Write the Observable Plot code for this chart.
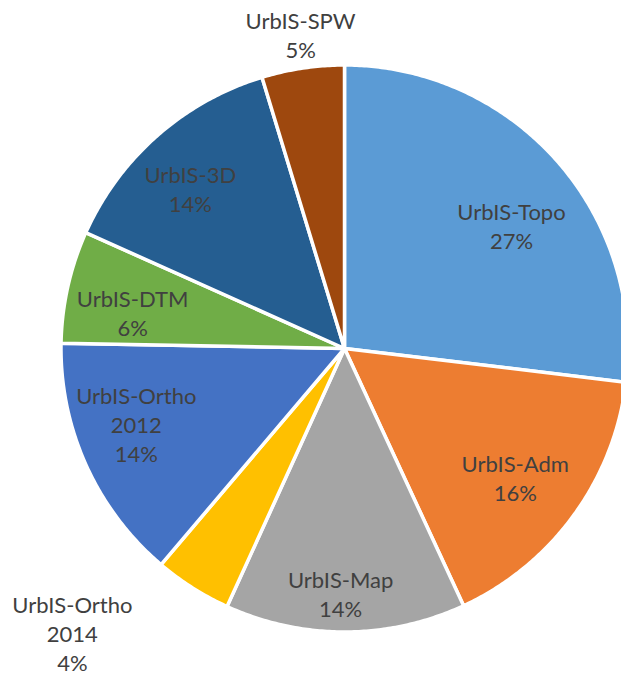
<!DOCTYPE html>
<html>
<head>
<meta charset="utf-8">
<script src="https://cdn.jsdelivr.net/npm/d3@7"></script>
<script src="https://cdn.jsdelivr.net/npm/@observablehq/plot@0.6"></script>
<style>
  html, body { margin: 0; padding: 0; background: #fff; overflow: hidden; }
</style>
</head>
<body>
<div id="chart"></div>
<script>
// ---- data ----
const names = ["UrbIS-Topo", "UrbIS-Adm", "UrbIS-Map", "UrbIS-Ortho 2014", "UrbIS-Ortho 2012", "UrbIS-DTM", "UrbIS-3D", "UrbIS-SPW"];
const labelNames = ["UrbIS-Topo", "UrbIS-Adm", "UrbIS-Map", "UrbIS-Ortho\n2014", "UrbIS-Ortho\n2012", "UrbIS-DTM", "UrbIS-3D", "UrbIS-SPW"];
const shares = [26.9, 16.2, 13.7, 4.4, 14.1, 6.4, 13.6, 4.7];
const colors = ["#5B9BD5", "#ED7D31", "#A5A5A5", "#FFC000", "#4472C4", "#70AD47", "#255E91", "#9E480E"];

// ---- label placement (polar: degrees clockwise from 12 o'clock, fraction of radius) ----
const labelAngle = [54, 127.4, 180.9, 223.6, 249.7, 279.1, 315.8, 352];
const labelRadius = [0.728, 0.758, 0.869, 1.392, 0.783, 0.757, 0.780, 1.113];

// ---- build slice polygons in unit-circle coordinates ----
const total = d3.sum(shares);
let acc = 0;
const slices = names.map((name, i) => {
  const a0 = acc / total * 2 * Math.PI;
  acc += shares[i];
  const a1 = acc / total * 2 * Math.PI;
  return {name, a0, a1};
});
const pts = slices.flatMap(s => {
  const n = Math.max(2, Math.ceil((s.a1 - s.a0) / (Math.PI / 360)));
  const arr = [{name: s.name, x: 0, y: 0}];
  for (let k = 0; k <= n; k++) {
    const a = s.a0 + (s.a1 - s.a0) * k / n;
    arr.push({name: s.name, x: Math.sin(a), y: Math.cos(a)});
  }
  arr.push({name: s.name, x: 0, y: 0});
  return arr;
});
const labels = names.map((name, i) => {
  const a = labelAngle[i] * Math.PI / 180;
  const pct = Math.round(shares[i] / total * 100) + "%";
  return {
    x: labelRadius[i] * Math.sin(a),
    y: labelRadius[i] * Math.cos(a),
    text: labelNames[i] + "\n" + pct
  };
});

// ---- scales: equal px per unit; centre at (344,348), R ~283.5px ----
const W = 621, H = 676, cx = 344, cy = 348, R = 283.5;
const chart = Plot.plot({
  width: W,
  height: H,
  margin: 0,
  x: {domain: [-cx / R, (W - cx) / R], axis: null},
  y: {domain: [(cy - H) / R, cy / R], axis: null},
  color: {domain: names, range: colors},
  style: {fontFamily: "Lato, 'Open Sans', sans-serif", background: "#fff"},
  marks: [
    Plot.line(pts, {x: "x", y: "y", z: "name", fill: "name", stroke: "white", strokeWidth: 3.5, curve: "linear", clip: true}),
    Plot.text(labels, {x: "x", y: "y", text: "text", fill: "#404040", fontSize: 22, lineHeight: 1.32, lineAnchor: "middle", textAnchor: "middle", dy: -2})
  ]
});
document.getElementById("chart").appendChild(chart);
</script>
</body>
</html>
